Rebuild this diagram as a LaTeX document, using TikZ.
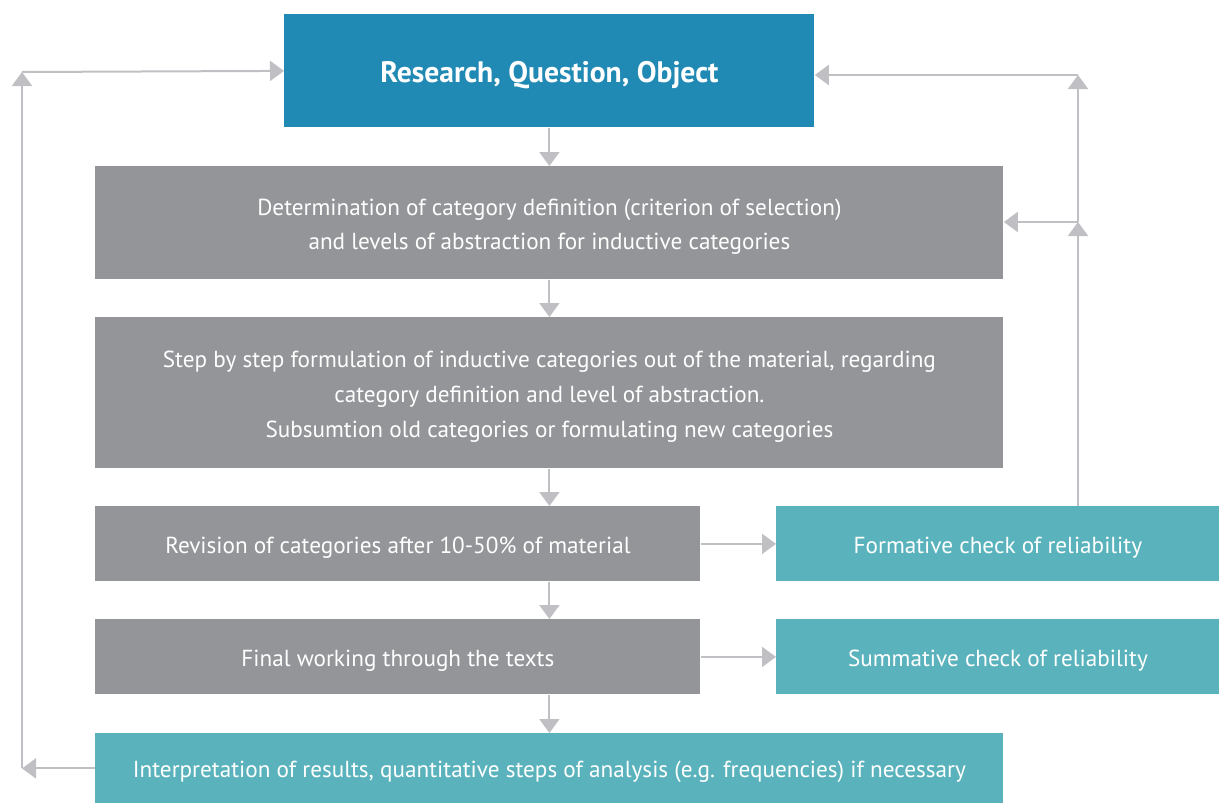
\documentclass[tikz,border=0pt]{standalone}
\usepackage{fontspec}
\setmainfont{PT Sans}
\usetikzlibrary{arrows.meta,positioning}
\definecolor{topblue}{RGB}{33,138,180}
\definecolor{boxgray}{RGB}{147,149,152}
\definecolor{boxteal}{RGB}{90,179,188}
\definecolor{linegray}{RGB}{192,192,196}
% taller first line, pushes the text a bit down in its box
\newcommand{\liftline}{\rule{0pt}{\dimexpr\fontcharht\font`(+4pt\relax}}

\begin{document}
\begin{tikzpicture}[x=0.5pt,y=-0.5pt,
  stagebox/.style={rectangle, anchor=north west, inner sep=0pt, align=center,
                   text=white, font=\fontsize{11.6}{17.3}\selectfont},
  flowline/.style={linegray, line width=1pt, -{Triangle[width=10pt,length=7pt]}}]
  % Frame of the picture
  \useasboundingbox (0,0) rectangle (1219,803);

  % Boxes
  \node[stagebox, fill=topblue, minimum width=265pt, minimum height=56.5pt,
        font=\fontsize{14.8}{17}\selectfont\bfseries] (research) at (284,14)
        {\liftline Research, Question, Object};
  \node[stagebox, fill=boxgray, minimum width=454pt, minimum height=56.5pt] (determination) at (95,166)
        {\liftline Determination of category definition (criterion of selection)\\and levels of abstraction for inductive categories};
  \node[stagebox, fill=boxgray, minimum width=454pt, minimum height=75.5pt] (formulation) at (95,317)
        {\liftline Step by step formulation of inductive categories out of the material, regarding\\category definition and level of abstraction.\\Subsumtion old categories or formulating new categories};
  \node[stagebox, fill=boxgray, minimum width=302.5pt, minimum height=37.5pt] (revision) at (95,506)
        {\liftline Revision of categories after 10-50\% of material};
  \node[stagebox, fill=boxteal, minimum width=221.5pt, minimum height=37.5pt] (formative) at (776,506)
        {\liftline Formative check of reliability};
  \node[stagebox, fill=boxgray, minimum width=302.5pt, minimum height=37.5pt] (working) at (95,619)
        {\liftline Final working through the texts};
  \node[stagebox, fill=boxteal, minimum width=221.5pt, minimum height=37.5pt] (summative) at (776,619)
        {\liftline Summative check of reliability};
  \node[stagebox, fill=boxteal, minimum width=454pt, minimum height=35pt] (interpretation) at (95,733)
        {\liftline Interpretation of results, quantitative steps of analysis (e.g. frequencies) if necessary};

  % Corners of the loops
  \coordinate (lefttop) at (22,72);
  \coordinate (rightmid) at (1078,222);
  \coordinate (righttop) at (1078,75);

  % Main flow (all on the middle line of the wide boxes)
  \draw[flowline] (research.south) -- (determination.north);
  \draw[flowline] (determination.south) -- (formulation.north);
  \draw[flowline] (formulation.south) -- (formulation.south |- revision.north);
  \draw[flowline] (formulation.south |- revision.south) -- (formulation.south |- working.north);
  \draw[flowline] (formulation.south |- working.south) -- (interpretation.north);
  \draw[flowline] (revision.east) -- (formative.west);
  \draw[flowline] (working.east) -- (summative.west);

  % Feedback loops
  \draw[flowline] (interpretation.west) -- (interpretation.west -| lefttop);
  \draw[flowline] (interpretation.west -| lefttop) -- (lefttop);
  \draw[flowline] (lefttop) -- (research.west);
  \draw[flowline] (formative.north -| rightmid) -- (rightmid);
  \draw[flowline] (rightmid) -- (rightmid -| determination.east);
  \draw[flowline] (rightmid) -- (righttop);
  \draw[flowline] (righttop) -- (righttop -| research.east);
\end{tikzpicture}
\end{document}
